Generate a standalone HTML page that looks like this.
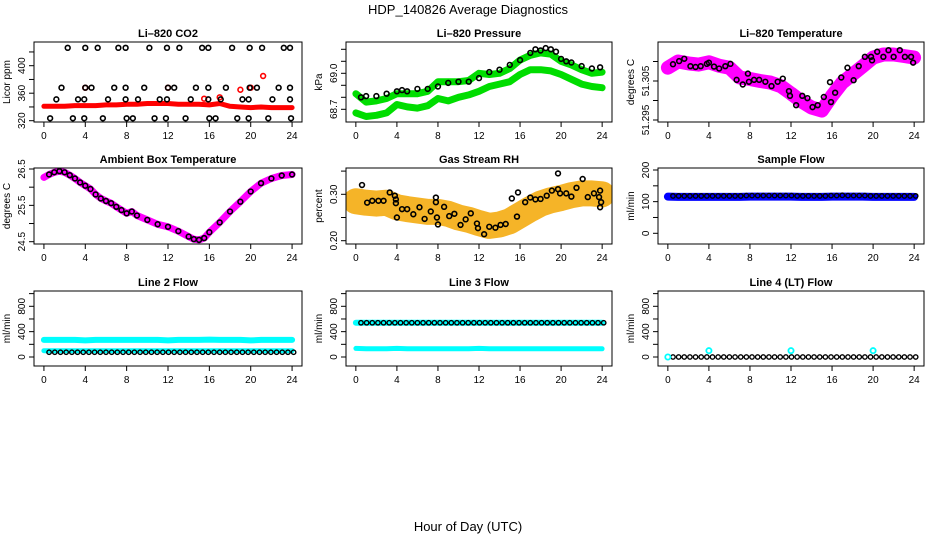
<!DOCTYPE html>
<html><head><meta charset="utf-8">
<style>
html,body{margin:0;padding:0;background:#fff;}
svg{display:block;font-family:"Liberation Sans",Arial,sans-serif;}
</style></head>
<body>
<svg id="chart" width="936" height="540" viewBox="0 0 936 540" xmlns="http://www.w3.org/2000/svg">
<rect width="936" height="540" fill="#fff"/>
<text x="468" y="14" text-anchor="middle" font-size="13">HDP_140826  Average Diagnostics</text>
<text x="468" y="531" text-anchor="middle" font-size="13">Hour of Day (UTC)</text>
<g id="plots"></g>
</svg>
<script>
const xTicks = [0,4,8,12,16,20,24];
const hours = [0,1,2,3,4,5,6,7,8,9,10,11,12,13,14,15,16,17,18,19,20,21,22,23,24];

// CO2
const co2Red = [341,341,341,342,342,342,343,343,344,344,345,345,345,344,344,344,343,345,341,340,339,340,339,339,339];
const co2RedOutT = [4,12,15.5,17,19,20,21.2];
const co2RedOutV = [368,368,352,354,365,368,385];
const co2BlkT = [2.3,4.0,5.2,7.2,7.9,10.2,11.9,13.1,15.3,15.9,18.2,19.9,21.1,23.2,23.8,
 1.7,4.0,4.6,6.8,7.9,9.7,12.0,12.6,14.7,15.9,17.6,19.9,20.6,22.7,23.8,
 1.2,3.3,3.9,6.2,7.9,9.1,11.2,11.9,14.2,15.9,17.1,19.2,19.8,22.1,23.8,
 0.6,2.8,3.9,5.7,8.0,8.6,10.7,11.8,13.7,16.0,16.6,18.7,19.8,21.7,23.9];
const co2BlkV = [426,426,426,426,426,426,426,426,426,426,426,426,426,426,426,
 368,368,368,368,368,368,368,368,368,368,368,368,368,368,368,
 351,351,351,351,351,351,351,351,351,351,351,351,351,351,351,
 323.5,323.5,323.5,323.5,323.5,323.5,323.5,323.5,323.5,323.5,323.5,323.5,323.5,323.5,323.5];

// Pressure
const presUpper = [68.83,68.76,68.77,68.79,68.83,68.83,68.83,68.85,68.93,68.93,68.93,68.94,69.0,68.99,69.0,69.04,69.11,69.15,69.17,69.16,69.10,69.07,69.03,69.0,69.01];
const presLower = [68.67,68.64,68.65,68.67,68.74,68.72,68.71,68.73,68.79,68.77,68.80,68.82,68.85,68.89,68.91,68.93,68.99,69.03,69.03,69.02,68.99,68.95,68.91,68.89,68.88];
const presBlkT = [0.5,1,2,3,4,4.5,5,6,7,8,9,10,11,12,13,14,15,16,17,17.5,18,18.5,19,19.5,20,20.5,21,22,23,23.8];
const presBlkV = [68.80,68.81,68.81,68.83,68.85,68.86,68.85,68.87,68.87,68.89,68.92,68.93,68.93,68.96,69.01,69.03,69.07,69.11,69.17,69.20,69.19,69.21,69.20,69.18,69.12,69.10,69.09,69.06,69.04,69.05];

// Li-820 temperature
const tempMag = [51.3084,51.3100,51.3095,51.3092,51.3098,51.3089,51.3084,51.3059,51.3055,51.3050,51.3046,51.3037,51.3018,51.2998,51.2982,51.2974,51.3012,51.3046,51.3067,51.3088,51.3110,51.3118,51.3118,51.3114,51.3110];
const tempBlkT = [0.5,1.1,1.6,2.2,2.7,3.2,3.8,4.0,4.5,5.0,5.6,6.1,6.7,7.3,7.8,7.9,8.4,8.9,9.5,10.1,10.7,11.2,11.8,11.9,12.5,13.1,13.6,14.1,14.6,15.2,15.8,15.9,16.3,16.9,17.5,18.1,18.6,19.2,19.8,19.9,20.4,21.0,21.5,22.0,22.6,23.1,23.7,23.9];
const tempBlkV = [51.3093,51.3101,51.3107,51.3088,51.3086,51.3088,51.3094,51.3097,51.3087,51.3082,51.3088,51.3094,51.3053,51.3041,51.3069,51.3048,51.3053,51.3053,51.3048,51.3037,51.3048,51.3056,51.3024,51.3012,51.2988,51.3012,51.3006,51.2983,51.2988,51.3009,51.3047,51.2996,51.3020,51.3059,51.3084,51.3052,51.3088,51.3112,51.3112,51.3103,51.3125,51.3112,51.3129,51.3112,51.3129,51.3112,51.3112,51.3097];

// Ambient box temperature
const ambT = [0,0.5,1,1.5,2,2.5,3,3.5,4,4.5,5,5.5,6,6.5,7,7.5,8,8.5,9,10,11,12,13,14,14.5,15,15.5,16,17,18,19,20,21,22,23,24];
const ambV = [26.27,26.35,26.41,26.44,26.41,26.33,26.24,26.13,26.04,25.95,25.80,25.69,25.62,25.56,25.46,25.37,25.28,25.33,25.22,25.10,24.98,24.91,24.79,24.64,24.57,24.55,24.60,24.76,25.03,25.33,25.60,25.88,26.11,26.24,26.32,26.35];

// Gas stream RH
const rhBand = [0.285,0.282,0.280,0.282,0.272,0.268,0.265,0.262,0.262,0.258,0.250,0.245,0.238,0.232,0.235,0.242,0.255,0.268,0.280,0.287,0.292,0.298,0.302,0.302,0.300];
const rhBlkT = [0.6,1.1,1.6,2.2,2.7,3.3,3.8,3.9,3.9,4.0,4.5,5.0,5.6,6.2,6.7,7.3,7.8,7.8,7.9,8.0,8.6,9.1,9.6,10.2,10.7,11.2,11.8,11.9,12.5,13.0,13.6,14.1,14.6,15.2,15.7,15.8,16.5,17.0,17.5,18.0,18.6,19.1,19.7,19.7,19.9,20.5,21.0,21.5,22.1,22.6,23.2,23.7,23.8,23.8,23.9];
const rhBlkV = [0.320,0.282,0.286,0.286,0.286,0.304,0.297,0.289,0.281,0.250,0.268,0.268,0.257,0.272,0.247,0.263,0.293,0.283,0.250,0.235,0.273,0.253,0.258,0.234,0.246,0.259,0.237,0.227,0.214,0.230,0.228,0.234,0.236,0.291,0.252,0.304,0.283,0.293,0.289,0.290,0.297,0.308,0.311,0.345,0.302,0.302,0.295,0.314,0.333,0.294,0.302,0.294,0.308,0.272,0.283];

// Sample flow
const sfBlue = [116,115,115,115,115,115,115,115,116,116,116,116,116,115,115,115,116,116,116,116,115,115,115,115,115];
const sfBlk = [118,118,118,118,118,118,118,118,119,119,119,119,119,118,118,118,119,120,119,119,118,118,118,118,118];

// Line 2 flow
const l2CyanHi = [270,270,270,270,262,270,270,270,270,270,270,270,262,270,270,270,275,270,270,270,262,270,270,270,270];
const l2CyanLo = [100,100,100,100,100,100,100,100,100,100,100,100,100,100,100,100,100,100,100,100,100,100,100,100,100];
const l2Blk = [75,75,75,75,75,75,75,75,75,75,75,75,75,75,75,75,75,75,75,75,75,75,75,75,75];
// Line 3 flow
const l3CyanHi = [540,540,540,540,540,540,540,540,540,540,540,540,540,540,540,540,540,540,540,540,540,540,540,540,540];
const l3CyanLo = [135,130,130,130,135,130,130,130,130,130,130,130,135,130,130,130,130,130,130,130,130,130,130,130,130];
const l3Blk = [540,540,540,540,540,540,540,540,540,540,540,540,540,540,540,540,540,540,540,540,540,540,540,540,540];
// Line 4 flow
const l4Blk = [0,0,0,0,0,0,0,0,0,0,0,0,0,0,0,0,0,0,0,0,0,0,0,0,0];
const l4OutT = [0,4,12,20];
const l4OutV = [0,100,100,100];

const NS = "http://www.w3.org/2000/svg";
const root = document.getElementById('plots');
const cols = [[34,302],[346,612],[658,924]];
const rows = [[42,122],[168,244],[291,366]];

function mk(tag, attrs, parent){
  const e = document.createElementNS(NS, tag);
  for (const k in attrs) e.setAttribute(k, attrs[k]);
  (parent||root).appendChild(e);
  return e;
}

function panel(c, r, name, title, ylabel, yCal, yTicks, yLabels){
  const g = mk('g', {});
  
  
  const [x0,x1] = cols[c], [y0,y1] = rows[r];
  const xs = t => x0 + (t + 0.96) / 25.92 * (x1 - x0);
  const ys = v => yCal[1] + (v - yCal[0]) * (yCal[3] - yCal[1]) / (yCal[2] - yCal[0]);
  const clipId = 'clip-' + name;
  const cp = mk('clipPath', {id: clipId}, g);
  mk('rect', {x:x0, y:y0, width:x1-x0, height:y1-y0}, cp);
  const data = mk('g', {'clip-path':'url(#'+clipId+')'}, g);
  
  
  const box = mk('rect', {x:x0, y:y0, width:x1-x0, height:y1-y0, fill:'none', stroke:'#000', 'stroke-width':1}, g);
  
  
  const tt = mk('text', {x:(x0+x1)/2, y:y0-5, 'text-anchor':'middle', 'font-size':11, 'font-weight':'bold'}, g);
  tt.textContent = title;
  
  
  const xa = mk('g', {}, g);
  
  
  mk('line', {x1:xs(0), x2:xs(24), y1:y1, y2:y1, stroke:'#000'}, xa);
  xTicks.forEach(t => {
    mk('line', {x1:xs(t), x2:xs(t), y1:y1, y2:y1+5, stroke:'#000'}, xa);
    const l = mk('text', {x:xs(t), y:y1+17, 'text-anchor':'middle', 'font-size':10}, xa);
    l.textContent = t;
    
    
  });
  const ya = mk('g', {}, g);
  
  
  mk('line', {x1:x0, x2:x0, y1:ys(yTicks[0]), y2:ys(yTicks[yTicks.length-1]), stroke:'#000'}, ya);
  yTicks.forEach(v => mk('line', {x1:x0-5, x2:x0, y1:ys(v), y2:ys(v), stroke:'#000'}, ya));
  yLabels.forEach(v => {
    const px = x0 - 9, py = ys(v);
    const l = mk('text', {x:px, y:py, 'text-anchor':'middle', 'font-size':10, transform:'rotate(-90 '+px+' '+py+')'}, ya);
    l.textContent = v;
    
    
  });
  const yl = mk('text', {x:x0-24, y:(y0+y1)/2, 'text-anchor':'middle', 'font-size':10, transform:'rotate(-90 '+(x0-24)+' '+((y0+y1)/2)+')'}, g);
  yl.textContent = ylabel;
  
  
  return {xs, ys, data};
}

function band(p, ts, vs, color, w, name){
  const pts = ts.map((t,i) => p.xs(t).toFixed(1)+','+p.ys(vs[i]).toFixed(1)).join(' ');
  const pl = mk('polyline', {points:pts, fill:'none', stroke:color, 'stroke-width':w, 'stroke-linejoin':'round', 'stroke-linecap':'round'}, p.data);
  
  
}
function dots(p, ts, vs, color, name, r, sw){
  ts.forEach((t,i) => {
    const c = mk('circle', {cx:p.xs(t), cy:p.ys(vs[i]), r:r||2.4, fill:'none', stroke:color, 'stroke-width':sw||1.6}, p.data);
    
    
  });
}
const blkT = [];
for (let i = 0; i < 44; i++) blkT.push(0.55 * i + 0.5);
const hourlyAt = (arr, t) => arr[Math.min(24, Math.round(t))];

let p = panel(0,0,'co2-panel','Li\u2013820 CO2','Licor ppm',[320,120.7,400,65.7],[320,340,360,380,400,420],[320,360,400]);
band(p, hours, co2Red, '#ff0000', 5, 'co2-red-band');
dots(p, co2RedOutT, co2RedOutV, '#ff0000', 'co2-red-point');
dots(p, co2BlkT, co2BlkV, '#000', 'co2-black-point');

p = panel(1,0,'pressure-panel','Li\u2013820 Pressure','kPa',[69.0,73.3,68.7,109.3],[68.7,68.8,68.9,69.0,69.1,69.2],[68.7,'69.0']);
band(p, hours, presUpper, '#00dd00', 7, 'pressure-upper-band');
band(p, hours, presLower, '#00dd00', 7, 'pressure-lower-band');
dots(p, presBlkT, presBlkV, '#000', 'pressure-black-point');

p = panel(2,0,'li820-temp-panel','Li\u2013820 Temperature','degrees C',[51.305,81,51.295,120],[51.295,51.3,51.305,51.31],['51.295','51.305']);
band(p, hours, tempMag, '#ff00ff', 14, 'li820-temp-band');
dots(p, tempBlkT, tempBlkV, '#000', 'li820-temp-black-point');

p = panel(0,1,'ambient-panel','Ambient Box Temperature','degrees C',[26.5,169,24.5,241.7],[24.5,25,25.5,26,26.5],['24.5','25.5','26.5']);
band(p, ambT, ambV, '#ff00ff', 7, 'ambient-band');
dots(p, ambT.slice(1), ambV.slice(1), '#000', 'ambient-black-point');

p = panel(1,1,'rh-panel','Gas Stream RH','percent',[0.30,194.3,0.20,240.7],[0.20,0.25,0.30,0.35],['0.20','0.30']);
band(p, hours, rhBand, '#f5b428', 26, 'rh-band');
dots(p, rhBlkT, rhBlkV, '#000', 'rh-black-point');

p = panel(2,1,'sample-flow-panel','Sample Flow','ml/min',[0,233.3,200,170],[0,50,100,150,200],[0,100,200]);
band(p, hours, sfBlue, '#0000ff', 8, 'sample-flow-band');
dots(p, blkT, blkT.map(t => hourlyAt(sfBlk, t)), '#000', 'sample-flow-black-point', 2.2, 1.4);

p = panel(0,2,'line2-panel','Line 2 Flow','ml/min',[0,357,800,306.3],[0,200,400,600,800,1000],[0,400,800]);
band(p, hours, l2CyanHi, '#00ffff', 6, 'line2-cyan-high');
band(p, hours, l2CyanLo, '#00ffff', 5, 'line2-cyan-low');
dots(p, blkT, blkT.map(t => hourlyAt(l2Blk, t)), '#000', 'line2-black-point', 2.2, 1.4);

p = panel(1,2,'line3-panel','Line 3 Flow','ml/min',[0,357,800,306.3],[0,200,400,600,800,1000],[0,400,800]);
band(p, hours, l3CyanHi, '#00ffff', 6, 'line3-cyan-high');
band(p, hours, l3CyanLo, '#00ffff', 5, 'line3-cyan-low');
dots(p, blkT, blkT.map(t => hourlyAt(l3Blk, t)), '#000', 'line3-black-point', 2.2, 1.4);

p = panel(2,2,'line4-panel','Line 4 (LT) Flow','ml/min',[0,357,800,306.3],[0,200,400,600,800,1000],[0,400,800]);
dots(p, blkT, blkT.map(t => hourlyAt(l4Blk, t)), '#000', 'line4-black-point', 2.2, 1.4);
dots(p, l4OutT, l4OutV, '#00ffff', 'line4-cyan-point', 2.6, 1.8);
</script>
</body></html>
